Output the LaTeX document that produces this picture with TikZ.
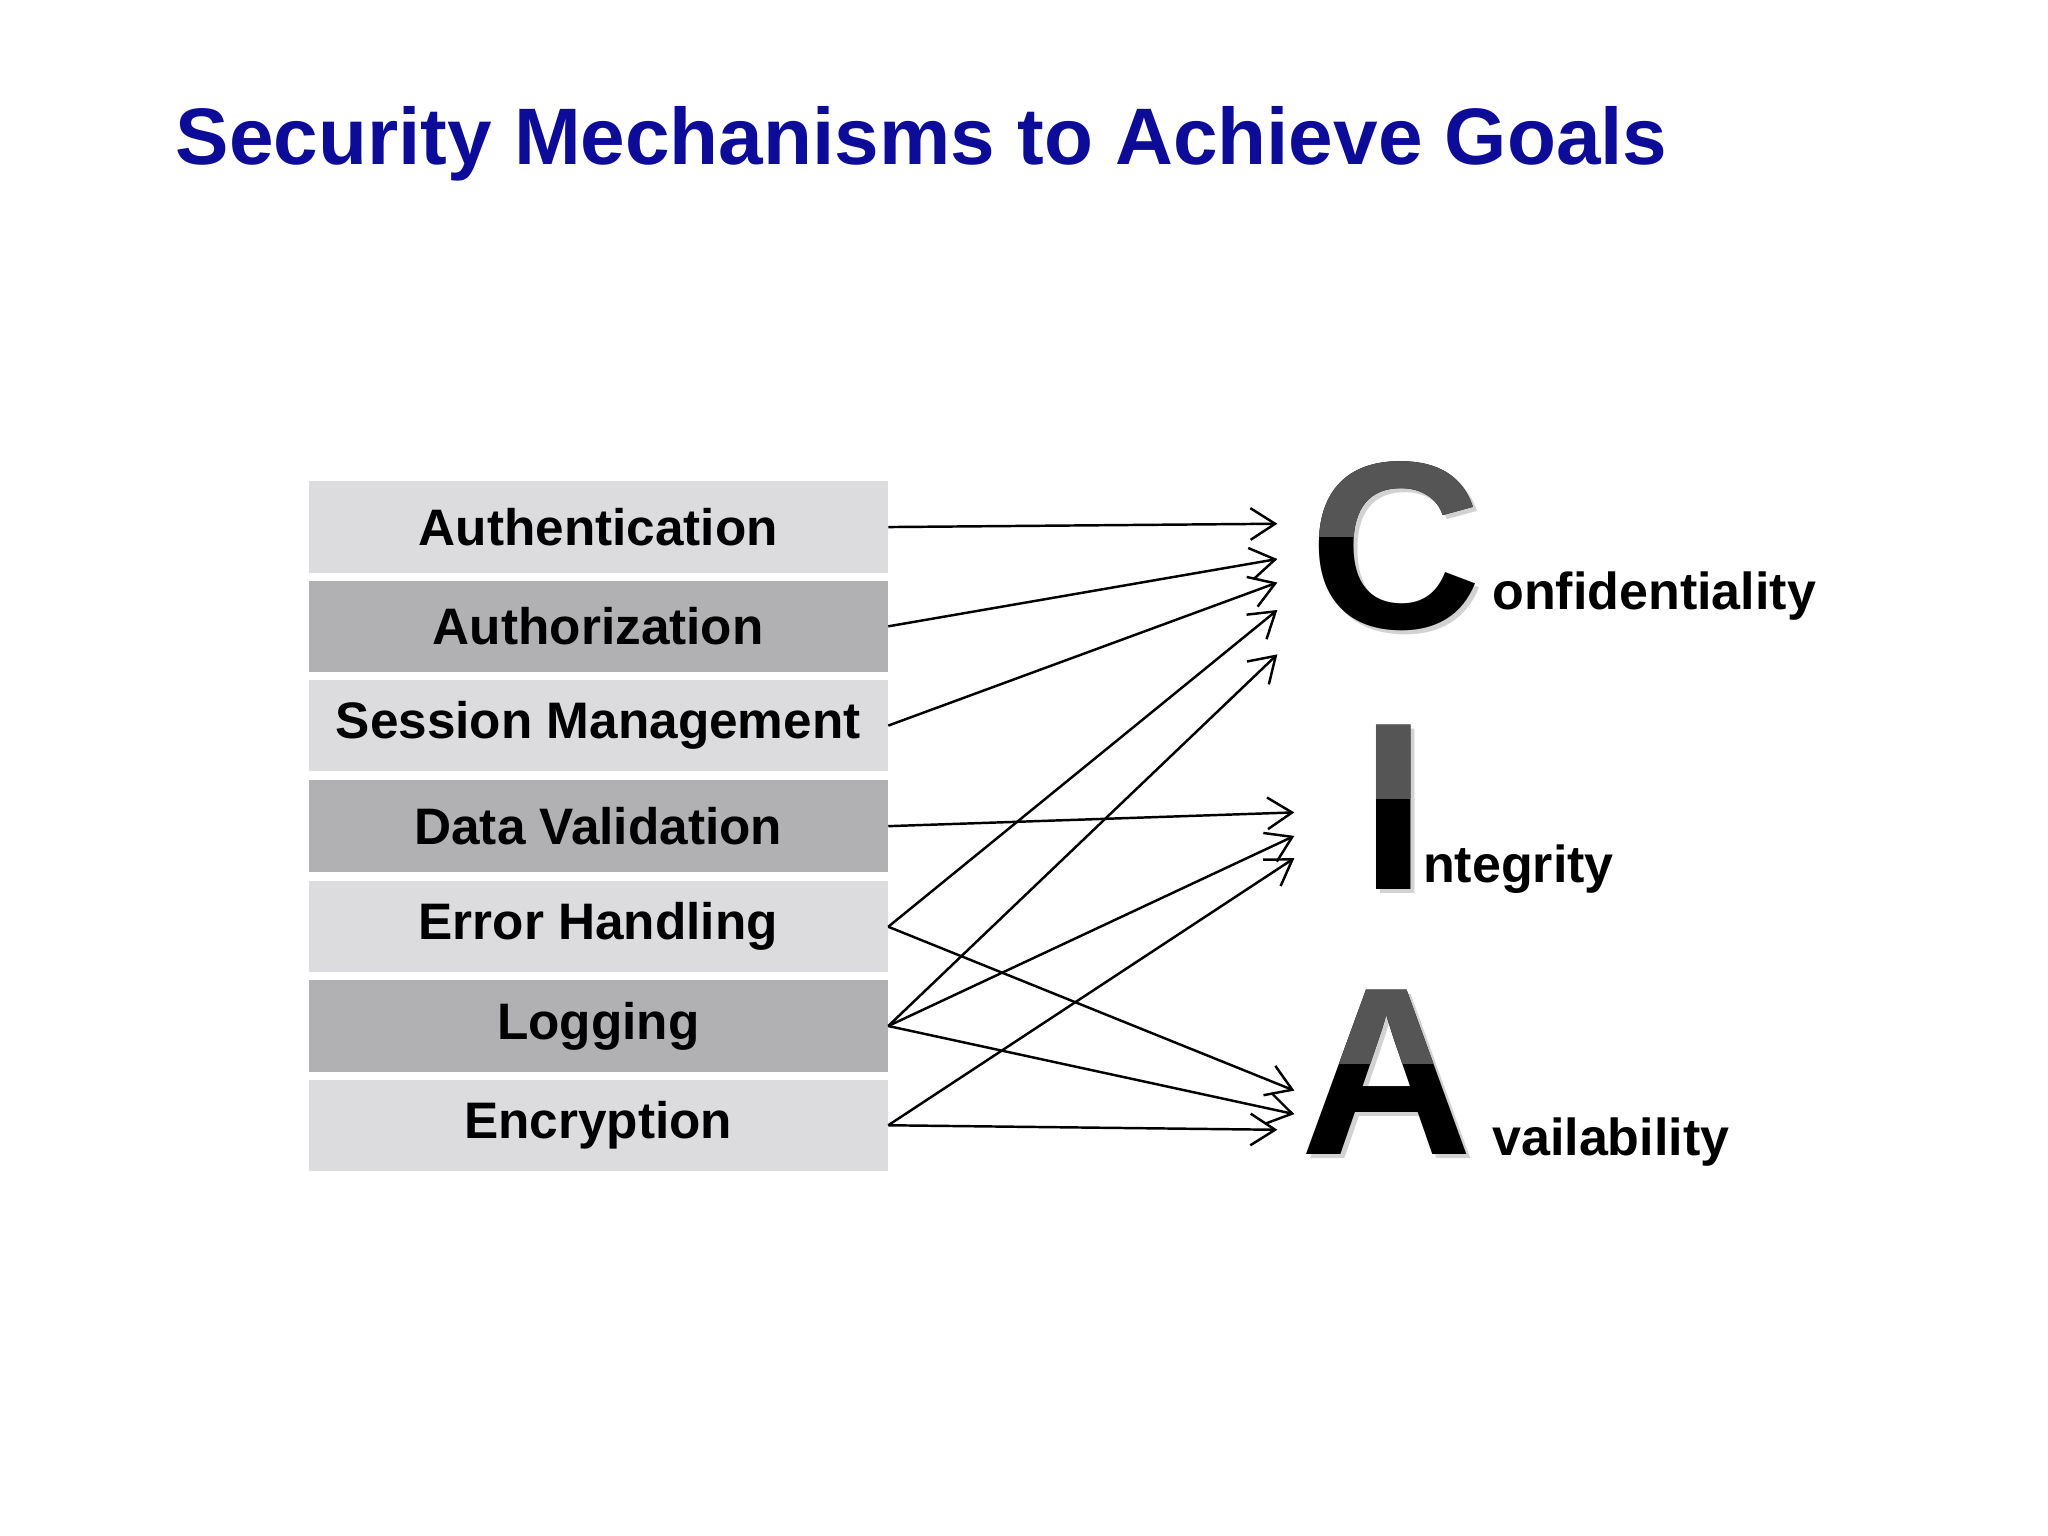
\documentclass[tikz,border=0pt]{standalone}
\usepackage{fontspec}
\setmainfont{Liberation Sans}
\usetikzlibrary{arrows.meta}
\definecolor{titleblue}{HTML}{0C0C98}
\definecolor{lightbox}{HTML}{DCDBDE}
\definecolor{darkbox}{HTML}{B1B0B2}
\definecolor{topgray}{HTML}{555555}
\tikzset{
 mbox/.style={minimum width=443*0.01306cm, minimum height=70*0.01306cm, inner sep=0pt, font=\fontsize{14.6}{17}\selectfont\bfseries, anchor=north west},
 lt/.style={mbox, fill=lightbox},
 dk/.style={mbox, fill=darkbox},
 con/.style={-{Straight Barb[length=7pt,width=9pt]}, line width=0.7pt},
 big/.style={font=\fontsize{68}{68}\selectfont\bfseries, inner sep=0pt, anchor=base west},
 suf/.style={font=\fontsize{14.8}{17}\selectfont\bfseries, inner sep=0pt, anchor=base west}
}
\begin{document}
\begin{tikzpicture}[x=0.01306cm,y=-0.01306cm]
\useasboundingbox (0,0) rectangle (1568,1176);
\fill[white] (0,0) rectangle (1568,1176);
\node[anchor=base west, inner sep=0pt, text=titleblue, font=\fontsize{22.8}{26}\selectfont\bfseries] (title) at (134,126) {Security Mechanisms to Achieve Goals};
\node[lt] (auth) at (236,368) {Authentication};
\node[dk] (authz) at (236,444) {Authorization};
\node[lt] (sess) at (236,520) {Session Management};
\node[dk] (dv) at (236,597) {Data Validation};
\node[lt] (err) at (236,674) {Error Handling};
\node[dk] (log) at (236,750) {Logging};
\node[lt] (enc) at (236,826) {Encryption};
% letters
\foreach \L/\x/\y/\m in {C/1002/481/cL, I/1041/681/iL, A/995/884/aL}{
 \node[big, text=gray!35] at (\x+3,\y+3) {\L};
 \node[big, text=black] (\m) at (\x,\y) {\L};
 \begin{scope}
  \clip (\x-10,\y-160) rectangle (\x+160,\y-70);
  \node[big, text=topgray] at (\x,\y) {\L};
 \end{scope}
}
\node[suf] (conf) at (1142,467) {onfidentiality};
\node[suf] (integ) at (1089,676) {ntegrity};
\node[suf] (avail) at (1142,885) {vailability};
% targets
\coordinate (c1) at (978,401);
\coordinate (c2) at (978,428);
\coordinate (c3) at (978,446);
\coordinate (c4) at (978,467);
\coordinate (c5) at (978,501);
\coordinate (i1) at (991,622);
\coordinate (i2) at (991,640);
\coordinate (i3) at (991,657);
\coordinate (a1) at (991,835);
\coordinate (a2) at (991,853);
\coordinate (a3) at (978,865);
\draw[con] (auth.east) -- (c1);
\draw[con] (authz.east) -- (c2);
\draw[con] (sess.east) -- (c3);
\draw[con] (dv.east) -- (i1);
\draw[con] (err.east) -- (c4);
\draw[con] (err.east) -- (a1);
\draw[con] (log.east) -- (c5);
\draw[con] (log.east) -- (i2);
\draw[con] (log.east) -- (a2);
\draw[con] (enc.east) -- (i3);
\draw[con] (enc.east) -- (a3);
\end{tikzpicture}
\end{document}
